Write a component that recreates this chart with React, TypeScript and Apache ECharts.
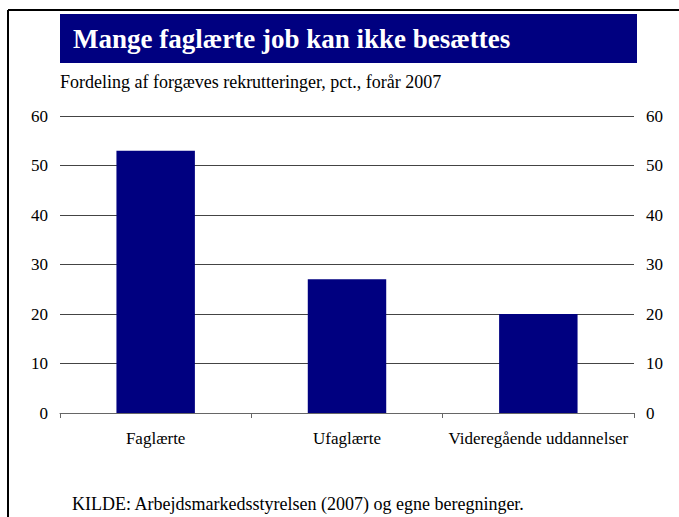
import React, { useEffect, useRef } from "react";
import * as echarts from "echarts";

const categories = ["Faglærte", "Ufaglærte", "Videregående uddannelser"];
const values = [53, 27, 20];
const yTicks = [0, 10, 20, 30, 40, 50, 60];

const titleText = "Mange faglærte job kan ikke besættes";
const subtitleText = "Fordeling af forgæves rekrutteringer, pct., forår 2007";
const sourceText = "KILDE: Arbejdsmarkedsstyrelsen (2007) og egne beregninger.";

const FONT = "'Liberation Serif', 'DejaVu Serif', serif";
const NAVY = "#000080";

export default function App() {
  const ref = useRef<HTMLDivElement>(null);
  useEffect(() => {
    if (!ref.current) return;
    const chart = echarts.init(ref.current, undefined, { renderer: "svg" });
    const yAxisCommon = {
      type: "value" as const,
      min: yTicks[0],
      max: yTicks[yTicks.length - 1],
      interval: 10,
      axisLine: { show: false },
      axisTick: { show: false },
      axisLabel: { color: "#000", fontFamily: FONT, fontSize: 17, margin: 12 },
    };
    chart.setOption({
      animation: false,
      backgroundColor: "#fff",
      grid: { left: 60, right: 45, top: 116, bottom: 104, containLabel: false },
      xAxis: {
        type: "category",
        data: categories,
        axisLine: { show: true, lineStyle: { color: "#666", width: 1 } },
        axisTick: { show: true, interval: 0, length: 5, inside: false, lineStyle: { color: "#666" } },
        axisLabel: { color: "#000", fontFamily: FONT, fontSize: 17, margin: 17, interval: 0 },
      },
      yAxis: [
        {
          ...yAxisCommon,
          position: "left",
          splitLine: { show: true, lineStyle: { color: "#444", width: 1 } },
        },
        {
          ...yAxisCommon,
          position: "right",
          splitLine: { show: false },
        },
      ],
      series: [
        {
          type: "bar",
          data: values,
          barWidth: "41%",
          itemStyle: { color: NAVY },
          yAxisIndex: 0,
        },
      ],
      graphic: [
        { type: "line", shape: { x1: 8, y1: 10, x2: 8, y2: 517 }, style: { stroke: "#000", lineWidth: 2 } },
        { type: "line", shape: { x1: 8, y1: 10, x2: 679, y2: 10 }, style: { stroke: "#000", lineWidth: 2 } },
        { type: "rect", shape: { x: 60, y: 14, width: 577, height: 49 }, style: { fill: NAVY } },
        {
          type: "text",
          x: 73,
          y: 39,
          style: {
            text: titleText,
            fill: "#fff",
            font: `bold 27px ${FONT}`,
            textVerticalAlign: "middle",
          },
        },
        {
          type: "text",
          x: 60,
          y: 82,
          style: { text: subtitleText, fill: "#000", font: `18px ${FONT}`, textVerticalAlign: "middle" },
        },
        {
          type: "text",
          x: 72,
          y: 504,
          style: { text: sourceText, fill: "#000", font: `18px ${FONT}`, textVerticalAlign: "middle" },
        },
      ],
    });
    return () => chart.dispose();
  }, []);
  return (
    <div
      ref={ref}
      style={{ position: "fixed", left: 0, top: 0, width: 679, height: 517 }}
    />
  );
}
